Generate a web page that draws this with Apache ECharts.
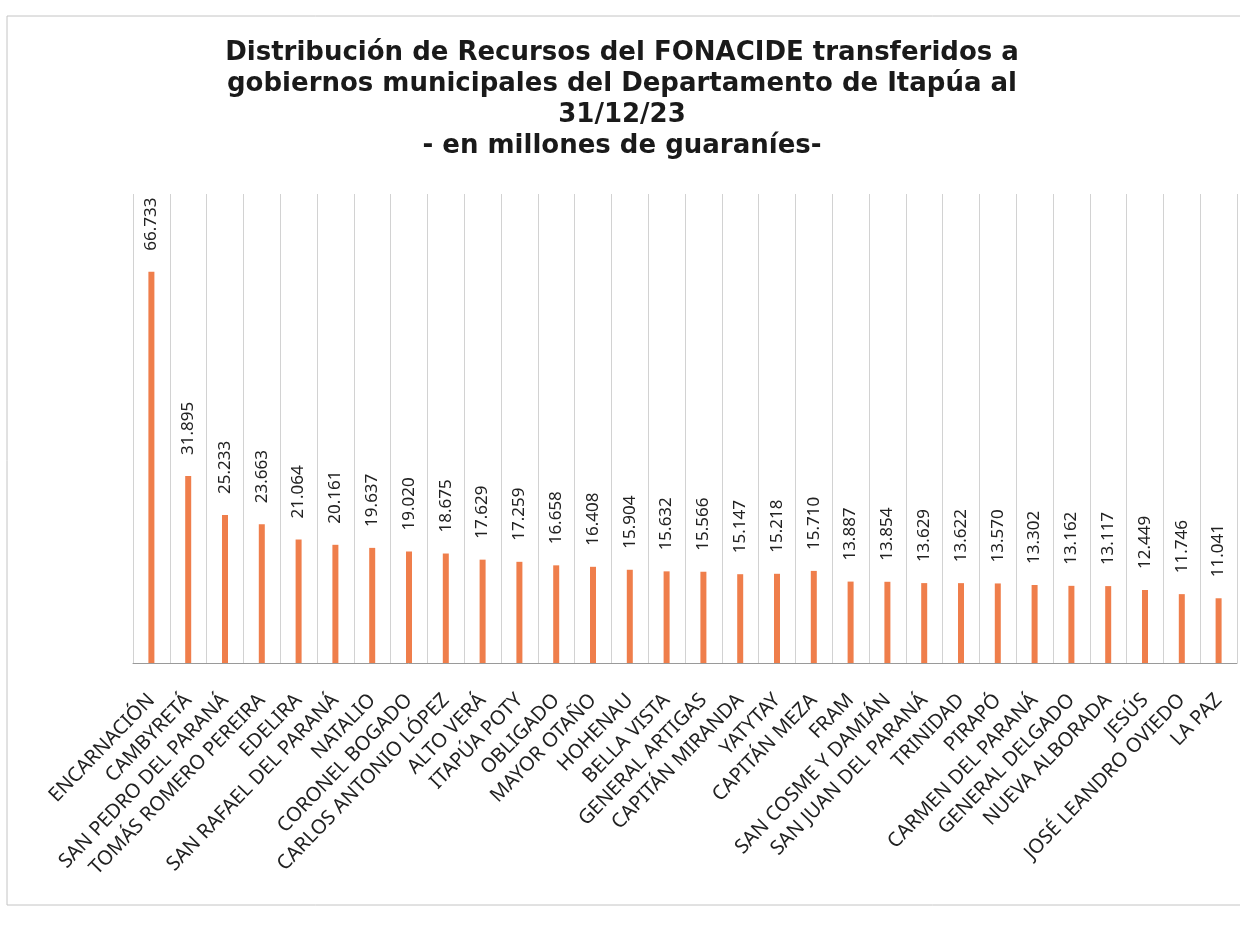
<!DOCTYPE html>
<html>
<head>
<meta charset="utf-8">
<title>FONACIDE Itapúa</title>
<script src="https://cdn.jsdelivr.net/npm/echarts@6/dist/echarts.min.js"></script>
<style>
  html, body {margin: 0; padding: 0; background: #fff;}
  #chart {width: 1240px; height: 927px;}
</style>
</head>
<body>
<div id="chart"></div>
<script>
// municipios, en el orden del gráfico
const municipios = [
  'ENCARNACIÓN', 'CAMBYRETÁ', 'SAN PEDRO DEL PARANÁ', 'TOMÁS ROMERO PEREIRA',
  'EDELIRA', 'SAN RAFAEL DEL PARANÁ', 'NATALIO', 'CORONEL BOGADO',
  'CARLOS ANTONIO LÓPEZ', 'ALTO VERÁ', 'ITAPÚA POTY', 'OBLIGADO',
  'MAYOR OTAÑO', 'HOHENAU', 'BELLA VISTA', 'GENERAL ARTIGAS',
  'CAPITÁN MIRANDA', 'YATYTAY', 'CAPITÁN MEZA', 'FRAM',
  'SAN COSME Y DAMIÁN', 'SAN JUAN DEL PARANÁ', 'TRINIDAD', 'PIRAPÓ',
  'CARMEN DEL PARANÁ', 'GENERAL DELGADO', 'NUEVA ALBORADA', 'JESÚS',
  'JOSÉ LEANDRO OVIEDO', 'LA PAZ'
];
// millones de guaraníes
const montos = [
  66.733, 31.895, 25.233, 23.663,
  21.064, 20.161, 19.637, 19.020,
  18.675, 17.629, 17.259, 16.658,
  16.408, 15.904, 15.632, 15.566,
  15.147, 15.218, 15.710, 13.887,
  13.854, 13.629, 13.622, 13.570,
  13.302, 13.162, 13.117, 12.449,
  11.746, 11.041
];
const yMax = 80;

const myChart = echarts.init(document.getElementById('chart'));
myChart.setOption({
  backgroundColor: '#fff',
  animation: false,
  title: {
    text: 'Distribución de Recursos del FONACIDE transferidos a\ngobiernos municipales del Departamento de Itapúa al\n31/12/23\n- en millones de guaraníes-',
    left: 617,
    top: 33,
    textAlign: 'center',
    textStyle: {
      fontFamily: 'DejaVu Sans',
      fontSize: 26,
      fontWeight: 'bold',
      color: '#1a1a1a',
      lineHeight: 31
    }
  },
  graphic: [{
    type: 'rect',
    shape: {x: 7, y: 16, width: 1250, height: 889},
    style: {fill: 'none', stroke: '#c4c4c4', lineWidth: 1},
    silent: true
  }],
  grid: {left: 133, right: 3, top: 194, bottom: 264},
  xAxis: {
    type: 'category',
    data: municipios,
    boundaryGap: true,
    axisLine: {show: true, lineStyle: {color: '#9a9a9a', width: 1}},
    axisTick: {show: false},
    splitLine: {show: true, lineStyle: {color: '#d2d2d2', width: 1}},
    axisLabel: {
      interval: 0,
      rotate: 46,
      margin: 34,
      fontFamily: 'Noto Sans',
      fontSize: 20,
      color: '#222'
    }
  },
  yAxis: {
    type: 'value',
    min: 0,
    max: yMax,
    show: false
  },
  series: [{
    type: 'bar',
    data: montos,
    barWidth: 6,
    itemStyle: {color: '#EF7E4B'},
    label: {
      show: true,
      position: 'top',
      distance: 21,
      rotate: 90,
      align: 'left',
      verticalAlign: 'middle',
      fontFamily: 'Noto Sans',
      fontSize: 17,
      color: '#222',
      formatter: (p) => p.value.toFixed(3)
    }
  }]
});
</script>
</body>
</html>
